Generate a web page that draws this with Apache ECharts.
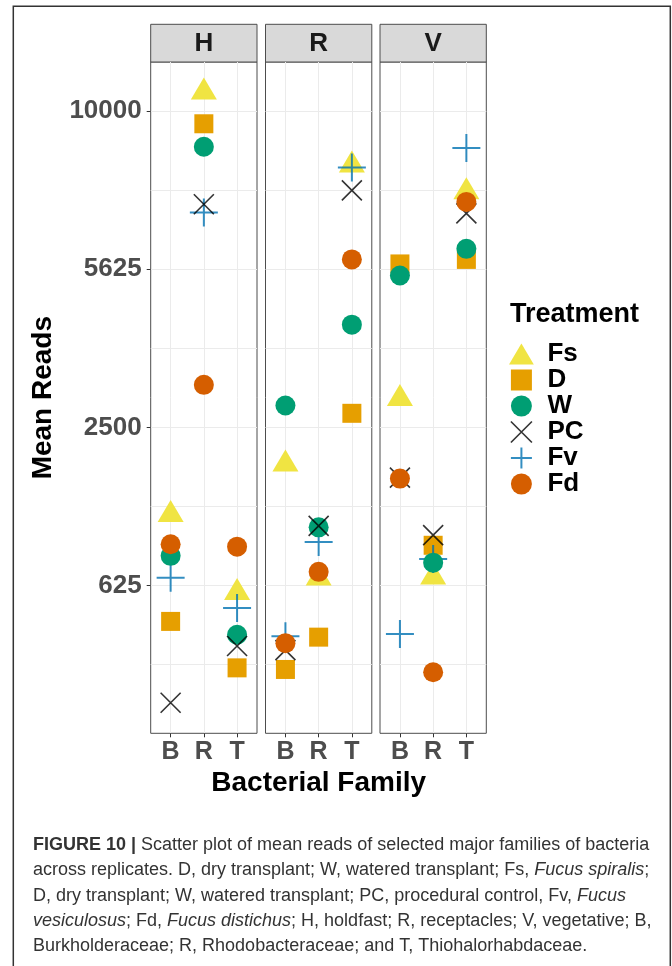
<!DOCTYPE html>
<html>
<head>
<meta charset="utf-8">
<script src="https://cdn.jsdelivr.net/npm/echarts@6/dist/echarts.min.js"></script>
<style>
  html, body { margin: 0; padding: 0; background: #fff; }
  #chart { width: 672px; height: 966px; }
</style>
</head>
<body>
<div id="chart"></div>
<script>
// facets / x categories / treatments
const facets = ['H', 'R', 'V'];
const families = ['B', 'R', 'T'];
const treatments = ['Fs', 'D', 'W', 'PC', 'Fv', 'Fd'];
const yTicks = [625, 2500, 5625, 10000];

// mean reads, order: H(B,R,T), R(B,R,T), V(B,R,T)
const Fs = [1308, 10590, 568, 1949, 683, 8350, 2967, 690, 7595];
const D  = [374, 9598, 144, 138, 284, 2727, 5749, 984, 5858];
const W  = [882, 8900, 297, 2857, 1170, 4386, 5476, 819, 6117];
const PC = [42, 7269, 239, 219, 1185, 7646, 1768, 1087, 7024];
const Fv = [688, 7048, 460, 289, 1016, 8294, 301, 852, 8859];
const Fd = [994, 3217, 970, 253, 738, 5858, 1756, 128, 7331];

const values = { Fs, D, W, PC, Fv, Fd };
const drawOrder = ['Fs', 'D', 'Fv', 'W', 'PC', 'Fd'];

const styles = {
    Fs: { symbol: 'triangle', icon: 'path://M13,0L26,22L0,22Z', size: [26, 22], offset: [0, -4], color: '#F0E442' },
    D:  { symbol: 'rect', icon: 'path://M0,0L10,0L10,10L0,10Z', size: 19, color: '#E69F00' },
    W:  { symbol: 'circle', icon: 'path://M0,5A5,5,0,1,1,10,5A5,5,0,1,1,0,5Z', size: 20, color: '#009E73' },
    PC: { symbol: 'path://M0,0L10,10M10,0L0,10', size: 20, stroke: '#000000', lw: 1.6 },
    Fv: { symbol: 'path://M5,0L5,10M0,5L10,5', size: 28, stroke: '#0072B2', lw: 2 },
    Fd: { symbol: 'circle', icon: 'path://M0,5A5,5,0,1,1,10,5A5,5,0,1,1,0,5Z', size: 20, color: '#D55E00' }
};

// layout
const panelLeft = [150.7, 265.5, 380];
const panelW = 106.3;
const panelTop = 62;
const panelH = 671.3;
const stripTop = 24.3;

// sqrt scale, ggplot style 5% expansion
const allS = [].concat(Fs, D, W, PC, Fv, Fd).map(Math.sqrt);
const sMin = Math.min(...allS), sMax = Math.max(...allS);
const pad = (sMax - sMin) * 0.05;
const yMin = sMin - pad, yMax = sMax + pad;
const majorS = yTicks.map(Math.sqrt);
const gridS = majorS.concat(majorS.map(s => s - (majorS[1] - majorS[0]) / 2));
const xVals = families.map((f, i) => i + 1);

const boldTxt = { fontFamily: 'Liberation Sans, Arial, sans-serif', fontWeight: 'bold' };

const myChart = echarts.init(document.getElementById('chart'), null, { renderer: 'canvas' });

const grids = [], xAxes = [], yAxes = [], series = [];
facets.forEach((fc, i) => {
    grids.push({
        left: panelLeft[i], top: panelTop, width: panelW, height: panelH,
        show: true, borderColor: '#4d4d4d', borderWidth: 1, backgroundColor: '#fff'
    });
    xAxes.push({
        type: 'value', gridIndex: i, min: 0.4, max: families.length + 0.6,
        axisLine: { show: false },
        axisTick: { show: true, customValues: xVals, length: 4, lineStyle: { color: '#333' } },
        axisLabel: {
            customValues: xVals, formatter: v => families[v - 1], margin: 6,
            fontSize: 25, color: '#4D4D4D', ...boldTxt
        },
        splitLine: { show: true, lineStyle: { color: '#EBEBEB', width: 1 } },
        name: i === 1 ? 'Bacterial Family' : '',
        nameLocation: 'middle', nameGap: 34,
        nameTextStyle: { fontSize: 28, color: '#000', ...boldTxt }
    });
    yAxes.push({
        type: 'value', gridIndex: i, min: yMin, max: yMax,
        axisLine: { show: false },
        axisTick: { show: false, customValues: gridS },
        axisLabel: i === 0 ? {
            show: true, customValues: majorS, formatter: v => String(Math.round(v * v)),
            margin: 9, fontSize: 26, color: '#4D4D4D', ...boldTxt
        } : { show: false },
        splitLine: { show: true, lineStyle: { color: '#EBEBEB', width: 1 } },
        name: i === 0 ? 'Mean Reads' : '',
        nameLocation: 'middle', nameGap: 93,
        nameTextStyle: { fontSize: 28, color: '#000', ...boldTxt }
    });
});
// tick marks at major breaks only
yAxes.push({
    type: 'value', gridIndex: 0, position: 'left', min: yMin, max: yMax,
    axisLine: { show: false },
    axisTick: { show: true, customValues: majorS, length: 4, lineStyle: { color: '#333' } },
    axisLabel: { show: false }, splitLine: { show: false }
});

facets.forEach((fc, i) => {
    drawOrder.forEach(t => {
        const st = styles[t];
        const vals = values[t];
        series.push({
            type: 'scatter', name: t, xAxisIndex: i, yAxisIndex: i,
            silent: true, animation: false,
            symbol: st.symbol, symbolSize: st.size, symbolOffset: st.offset || [0, 0],
            itemStyle: st.stroke
                ? { color: 'rgba(0,0,0,0)', borderColor: st.stroke, borderWidth: st.lw }
                : { color: st.color, borderWidth: 0, opacity: 1 },
            emphasis: { disabled: true },
            data: families.map((f, j) => [j + 1, Math.sqrt(vals[i * 3 + j])])
        });
    });
});

const graphics = [{
    type: 'rect', z: -10, silent: true,
    shape: { x: 13.3, y: 6.3, width: 657, height: 1000 },
    style: { fill: 'none', stroke: '#333', lineWidth: 1.5 }
}];
facets.forEach((fc, i) => {
    graphics.push({
        type: 'rect', silent: true,
        shape: { x: panelLeft[i], y: stripTop, width: panelW, height: panelTop - stripTop },
        style: { fill: '#D9D9D9', stroke: '#4d4d4d', lineWidth: 1 }
    });
    graphics.push({
        type: 'text', silent: true,
        x: panelLeft[i] + panelW / 2, y: (stripTop + panelTop) / 2 + 1,
        style: { text: fc, fill: '#1A1A1A', fontSize: 26, align: 'center', verticalAlign: 'middle', ...boldTxt }
    });
});
graphics.push({
    type: 'text', silent: true, x: 510, y: 315,
    style: { text: 'Treatment', fill: '#000', fontSize: 27, verticalAlign: 'middle', ...boldTxt }
});

const capFont = 'Liberation Sans Narrow, Liberation Sans, Arial, sans-serif';
const capSize = 18;
const capLines = [
    '{b|FIGURE 10 |} Scatter plot of mean reads of selected major families of bacteria',
    'across replicates. D, dry transplant; W, watered transplant; Fs, {i|Fucus spiralis};',
    'D, dry transplant; W, watered transplant; PC, procedural control, Fv, {i|Fucus}',
    '{i|vesiculosus}; Fd, {i|Fucus distichus}; H, holdfast; R, receptacles; V, vegetative; B,',
    'Burkholderaceae; R, Rhodobacteraceae; and T, Thiohalorhabdaceae.'
];
capLines.forEach((ln, k) => {
    graphics.push({
        type: 'text', silent: true, x: 33, y: 845 + k * 25.3,
        style: {
            text: ln, fill: '#333', fontSize: capSize, fontFamily: capFont, verticalAlign: 'middle',
            rich: {
                b: { fontWeight: 'bold', fontSize: capSize, fontFamily: capFont, fill: '#333' },
                i: { fontStyle: 'italic', fontSize: capSize, fontFamily: capFont, fill: '#333' }
            }
        }
    });
});

const option = {
    animation: false,
    backgroundColor: '#fff',
    grid: grids,
    xAxis: xAxes,
    yAxis: yAxes,
    legend: {
        orient: 'vertical', left: 504, top: 336,
        itemWidth: 42, itemHeight: 21, itemGap: 0,
        symbolKeepAspect: true,
        selectedMode: false,
        textStyle: { fontSize: 26, color: '#000', lineHeight: 26, ...boldTxt },
        data: treatments.map(t => {
            const st = styles[t];
            return {
                name: t, icon: st.icon || st.symbol,
                itemStyle: st.stroke
                    ? { color: 'rgba(0,0,0,0)', borderColor: st.stroke, borderWidth: st.lw }
                    : { color: st.color, borderWidth: 0 }
            };
        })
    },
    graphic: graphics,
    series: series
};
myChart.setOption(option);
</script>
</body>
</html>
